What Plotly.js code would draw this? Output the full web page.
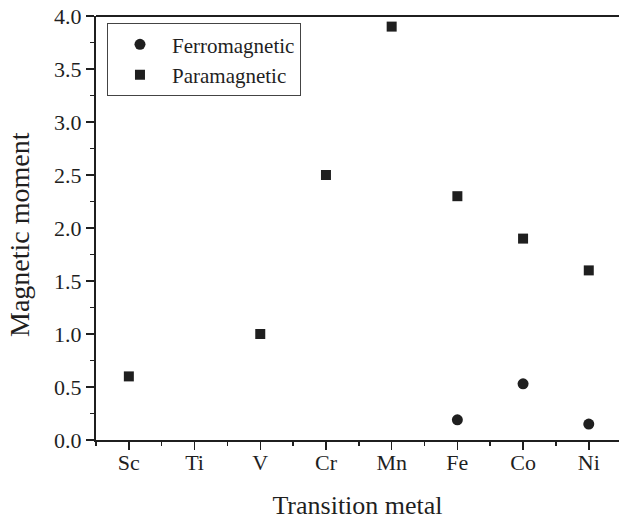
<!DOCTYPE html>
<html>
<head>
<meta charset="utf-8">
<script src="https://cdn.plot.ly/plotly-3.0.1.min.js"></script>
<style>
  html, body { margin: 0; padding: 0; background: #fff; }
  #chart { width: 619px; height: 520px; }
</style>
</head>
<body>
<div id="chart"></div>
<script>
// Transition metals along the x axis
const metals = ['Sc', 'Ti', 'V', 'Cr', 'Mn', 'Fe', 'Co', 'Ni'];

// Magnetic moments (null where no value is reported)
const ferromagnetic = [null, null, null, null, null, 0.19, 0.53, 0.15];
const paramagnetic  = [0.6, null, 1.0, 2.5, 3.9, 2.3, 1.9, 1.6];

const xIndex = metals.map((_, i) => i);

const FONT = 'Liberation Serif, Times New Roman, serif';
const INK = '#1f1f1f';

const traces = [
  {
    name: 'Ferromagnetic',
    x: xIndex,
    y: ferromagnetic,
    type: 'scatter',
    mode: 'markers',
    marker: { symbol: 'circle', size: 11, color: INK }
  },
  {
    name: 'Paramagnetic',
    x: xIndex,
    y: paramagnetic,
    type: 'scatter',
    mode: 'markers',
    marker: { symbol: 'square', size: 10, color: INK }
  }
];

const layout = {
  width: 619,
  height: 520,
  margin: { l: 96, r: 0, t: 16, b: 80 },
  paper_bgcolor: '#fff',
  plot_bgcolor: '#fff',
  font: { family: FONT, color: INK, size: 22 },
  showlegend: true,
  legend: {
    x: 0.021, y: 0.983, xanchor: 'left', yanchor: 'top',
    bgcolor: '#fff',
    bordercolor: '#444',
    borderwidth: 1,
    itemwidth: 54,
    font: { family: FONT, size: 21, color: INK }
  },
  xaxis: {
    range: [-0.5, 7.46],
    tickmode: 'array',
    tickvals: xIndex,
    ticktext: metals,
    ticks: 'outside',
    ticklen: 8,
    tickwidth: 1.5,
    tickcolor: INK,
    ticklabelstandoff: -6,
    showline: true,
    linecolor: INK,
    linewidth: 2,
    showgrid: false,
    zeroline: false,
    tickfont: { family: FONT, size: 22, color: INK },
    minor: { tickmode: 'linear', tick0: 0.5, dtick: 1, ticks: 'outside', ticklen: 4, tickwidth: 1.5, tickcolor: INK, showgrid: false },
    title: { text: 'Transition metal', font: { family: FONT, size: 26, color: INK }, standoff: 23 }
  },
  yaxis: {
    range: [0, 4.0],
    dtick: 0.5,
    tickformat: '.1f',
    ticks: 'outside',
    ticklen: 8,
    tickwidth: 1.5,
    tickcolor: INK,
    showline: true,
    linecolor: INK,
    linewidth: 2,
    showgrid: false,
    zeroline: false,
    tickfont: { family: FONT, size: 22, color: INK },
    minor: { dtick: 0.25, ticks: 'outside', ticklen: 4, tickwidth: 1.5, tickcolor: INK, showgrid: false }
  },
  annotations: [
    { text: 'Magnetic moment', textangle: -90, showarrow: false,
      xref: 'paper', yref: 'paper', x: -0.146, y: 0.485,
      xanchor: 'center', yanchor: 'middle',
      font: { family: FONT, size: 28, color: INK } }
  ],
  shapes: [
    { type: 'line', xref: 'paper', yref: 'paper', x0: 0, x1: 1, y0: 1, y1: 1,
      line: { color: INK, width: 2 } }
  ]
};

Plotly.newPlot('chart', traces, layout, { staticPlot: true, displayModeBar: false });
</script>
</body>
</html>
